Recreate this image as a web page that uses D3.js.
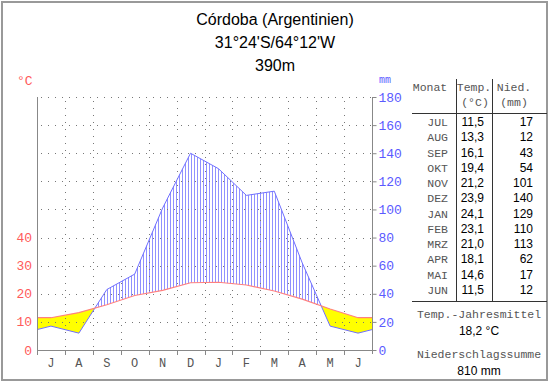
<!DOCTYPE html>
<html>
<head>
<meta charset="utf-8">
<script src="https://cdn.jsdelivr.net/npm/d3@7"></script>
<style>
  body { margin: 0; background: #fff; }
  svg { display: block; }
</style>
</head>
<body>
<svg id="chart" width="550" height="384"></svg>
<script>
// climate values, Córdoba (Argentinien), year starting in July
var monthNames = ["JUL", "AUG", "SEP", "OKT", "NOV", "DEZ", "JAN", "FEB", "MRZ", "APR", "MAI", "JUN"];
var monthLetters = ["J", "A", "S", "O", "N", "D", "J", "F", "M", "A", "M", "J"];
var temps = [11.5, 13.3, 16.1, 19.4, 21.2, 23.9, 24.1, 23.1, 21.0, 18.1, 14.6, 11.5];
var precip = [17, 12, 43, 54, 101, 140, 129, 110, 113, 62, 17, 12];
var tempTicks = [0, 10, 20, 30, 40];
var precipTicks = [0, 20, 40, 60, 80, 100, 120, 140, 160, 180];
var titleLines = ["Córdoba (Argentinien)", "31°24'S/64°12'W", "390m"];
var meanTempText = "18,2 °C";
var precipSumText = "810 mm";

var svg = d3.select("#chart");
var mono = "'Liberation Mono', 'DejaVu Sans Mono', monospace";
var sans = "'Liberation Sans', Arial, sans-serif";
var red = "#ff5a5a", blue = "#5a5aff", grey = "#555";

// outer frame
svg.append("rect")
  .attr("x", 2).attr("y", 2).attr("width", 545).attr("height", 378)
  .attr("fill", "none").attr("stroke", "#999").attr("stroke-width", 2);

// title
svg.selectAll("text.title")
  .data(titleLines)
  .enter().append("text")
  .attr("class", "title")
  .attr("x", 275)
  .attr("y", function (d, i) { return 25 + i * 23; })
  .attr("text-anchor", "middle")
  .attr("font-family", sans)
  .attr("font-size", 16)
  .text(function (d) { return d; });

// scales
var plotL = 37, plotR = 372, plotT = 97, plotB = 350;
var x = d3.scaleLinear().domain([-0.5, 11.5]).range([plotL, plotR]);
var y = d3.scaleLinear().domain([0, 180]).range([plotB, plotT]);
var yT = d3.scaleLinear().domain([0, 90]).range([plotB, plotT]);

// points at month centres, plus both edges (mean of JUN/JUL)
var pts = [{u: -0.5, t: (temps[11] + temps[0]) / 2, p: (precip[11] + precip[0]) / 2}];
temps.forEach(function (t, i) { pts.push({u: i, t: t, p: precip[i]}); });
pts.push({u: 11.5, t: pts[0].t, p: pts[0].p});

// add crossing points so both areas meet exactly
var full = [];
for (var i = 0; i < pts.length; i++) {
  if (i > 0) {
    var a = pts[i - 1], b = pts[i];
    var da = a.p - 2 * a.t, db = b.p - 2 * b.t;
    if (da * db < 0) {
      var f = da / (da - db);
      full.push({u: a.u + f * (b.u - a.u), t: a.t + f * (b.t - a.t), p: a.p + f * (b.p - a.p)});
    }
  }
  full.push(pts[i]);
}

// arid period (yellow)
var arid = d3.area()
  .x(function (d) { return x(d.u); })
  .y0(function (d) { return yT(d.t); })
  .y1(function (d) { return y(Math.min(d.p, 2 * d.t)); });
svg.append("path")
  .datum(full)
  .attr("fill", "#ffff00")
  .attr("d", arid);

// humid period (vertical hatching)
var humid = d3.area()
  .x(function (d) { return x(d.u); })
  .y0(function (d) { return yT(d.t); })
  .y1(function (d) { return y(Math.max(d.p, 2 * d.t)); });
svg.append("clipPath").attr("id", "humid")
  .append("path").datum(full).attr("d", humid);
svg.append("g")
  .attr("clip-path", "url(#humid)")
  .selectAll("line")
  .data(d3.range(plotL + 1.5, plotR, 3))
  .enter().append("line")
  .attr("x1", function (d) { return d; })
  .attr("x2", function (d) { return d; })
  .attr("y1", plotT).attr("y2", plotB)
  .attr("stroke", "#9090ff")
  .attr("stroke-width", 1);

// dotted grid
var grid = svg.append("g")
  .attr("stroke", "#777")
  .attr("stroke-width", 1)
  .attr("stroke-dasharray", "1,6");
grid.selectAll("line.h")
  .data(precipTicks.slice(1))
  .enter().append("line")
  .attr("class", "h")
  .attr("x1", plotL + 4).attr("x2", plotR)
  .attr("y1", function (d) { return Math.round(y(d)) + 0.5; })
  .attr("y2", function (d) { return Math.round(y(d)) + 0.5; });
grid.selectAll("line.v")
  .data(d3.range(0.5, 11, 1))
  .enter().append("line")
  .attr("class", "v")
  .attr("x1", function (d) { return Math.round(x(d)) + 0.5; })
  .attr("x2", function (d) { return Math.round(x(d)) + 0.5; })
  .attr("y1", plotT + 4).attr("y2", plotB);

// curves
var tLine = d3.line()
  .x(function (d) { return x(d.u); })
  .y(function (d) { return yT(d.t); });
var pLine = d3.line()
  .x(function (d) { return x(d.u); })
  .y(function (d) { return y(d.p); });
svg.append("path").datum(pts)
  .attr("fill", "none").attr("stroke", "#7070ff").attr("stroke-width", 1)
  .attr("d", pLine);
svg.append("path").datum(pts)
  .attr("fill", "none").attr("stroke", "#ff8080").attr("stroke-width", 1.1)
  .attr("d", tLine);

// axes frame
var axis = svg.append("g").attr("stroke", "#888").attr("stroke-width", 1);
axis.append("line").attr("x1", plotL + 0.5).attr("x2", plotL + 0.5).attr("y1", plotT).attr("y2", plotB + 5);
axis.append("line").attr("x1", plotL).attr("x2", plotR).attr("y1", plotB + 0.5).attr("y2", plotB + 0.5);
axis.selectAll("line.mt")
  .data(d3.range(0.5, 11, 1))
  .enter().append("line")
  .attr("class", "mt")
  .attr("x1", function (d) { return Math.round(x(d)) + 0.5; })
  .attr("x2", function (d) { return Math.round(x(d)) + 0.5; })
  .attr("y1", plotB).attr("y2", plotB + 5);

// right axis (precipitation)
var rAxis = svg.append("g")
  .attr("transform", "translate(" + (plotR + 0.5) + ",0)")
  .call(d3.axisRight(y).tickValues(precipTicks).tickSize(4).tickSizeOuter(0).tickPadding(2));
rAxis.select(".domain").attr("stroke", "#888").attr("d", "M0," + plotT + "V" + (plotB + 4));
rAxis.selectAll(".tick line").attr("stroke", "#888");
rAxis.selectAll(".tick text")
  .attr("fill", blue)
  .attr("font-family", mono)
  .attr("font-size", 13);

// left axis (temperature)
svg.selectAll("text.tt")
  .data(tempTicks)
  .enter().append("text")
  .attr("class", "tt")
  .attr("x", 32)
  .attr("y", function (d) { return yT(d) + 4.5; })
  .attr("text-anchor", "end")
  .attr("fill", red)
  .attr("font-family", mono)
  .attr("font-size", 13)
  .text(function (d) { return d; });

svg.append("text").attr("x", 17).attr("y", 85)
  .attr("fill", red).attr("font-family", mono).attr("font-size", 13).text("°C");
svg.append("text").attr("x", 379).attr("y", 83)
  .attr("fill", blue).attr("font-family", mono).attr("font-size", 10).text("mm");

// month letters
svg.selectAll("text.ml")
  .data(monthLetters)
  .enter().append("text")
  .attr("class", "ml")
  .attr("x", function (d, i) { return x(i); })
  .attr("y", 367)
  .attr("text-anchor", "middle")
  .attr("fill", grey)
  .attr("font-family", mono)
  .attr("font-size", 12)
  .text(function (d) { return d; });

// table
var tbl = svg.append("g");
var fmt = function (v) { return d3.format(".1f")(v).replace(".", ","); };
tbl.append("line").attr("x1", 412).attr("x2", 547).attr("y1", 113.5).attr("y2", 113.5).attr("stroke", "#333");
tbl.append("line").attr("x1", 412).attr("x2", 547).attr("y1", 301.5).attr("y2", 301.5).attr("stroke", "#333");
[456.5, 492.5].forEach(function (vx) {
  tbl.append("line").attr("x1", vx).attr("x2", vx).attr("y1", 79).attr("y2", 301).attr("stroke", "#333");
});
var head = [
  {x: 430, y: 91, s: "Monat"}, {x: 474, y: 91, s: "Temp."}, {x: 475, y: 106, s: "(°C)"},
  {x: 514, y: 91, s: "Nied."}, {x: 514, y: 106, s: "(mm)"}
];
tbl.selectAll("text.hd")
  .data(head)
  .enter().append("text")
  .attr("class", "hd")
  .attr("x", function (d) { return d.x; })
  .attr("y", function (d) { return d.y; })
  .attr("text-anchor", "middle")
  .attr("fill", grey)
  .attr("font-family", mono)
  .attr("font-size", 11.5)
  .text(function (d) { return d.s; });

var row = d3.scaleLinear().domain([0, 11]).range([126, 294]);
tbl.selectAll("text.mn")
  .data(monthNames)
  .enter().append("text")
  .attr("class", "mn")
  .attr("x", 448)
  .attr("y", function (d, i) { return row(i); })
  .attr("text-anchor", "end")
  .attr("fill", grey)
  .attr("font-family", mono)
  .attr("font-size", 11.5)
  .text(function (d) { return d; });
tbl.selectAll("text.tv")
  .data(temps)
  .enter().append("text")
  .attr("class", "tv")
  .attr("x", 484)
  .attr("y", function (d, i) { return row(i); })
  .attr("text-anchor", "end")
  .attr("font-family", sans)
  .attr("font-size", 12)
  .text(fmt);
tbl.selectAll("text.pv")
  .data(precip)
  .enter().append("text")
  .attr("class", "pv")
  .attr("x", 533)
  .attr("y", function (d, i) { return row(i); })
  .attr("text-anchor", "end")
  .attr("font-family", sans)
  .attr("font-size", 12)
  .text(function (d) { return d; });

// summary
var summary = [
  {y: 318, s: "Temp.-Jahresmittel", f: mono, c: grey},
  {y: 335, s: meanTempText, f: sans, c: "#000"},
  {y: 358, s: "Niederschlagssumme", f: mono, c: grey},
  {y: 375, s: precipSumText, f: sans, c: "#000"}
];
tbl.selectAll("text.sm")
  .data(summary)
  .enter().append("text")
  .attr("class", "sm")
  .attr("x", 479)
  .attr("y", function (d) { return d.y; })
  .attr("text-anchor", "middle")
  .attr("fill", function (d) { return d.c; })
  .attr("font-family", function (d) { return d.f; })
  .attr("font-size", function (d) { return d.f === mono ? 11.5 : 12; })
  .text(function (d) { return d.s; });
</script>
</body>
</html>
